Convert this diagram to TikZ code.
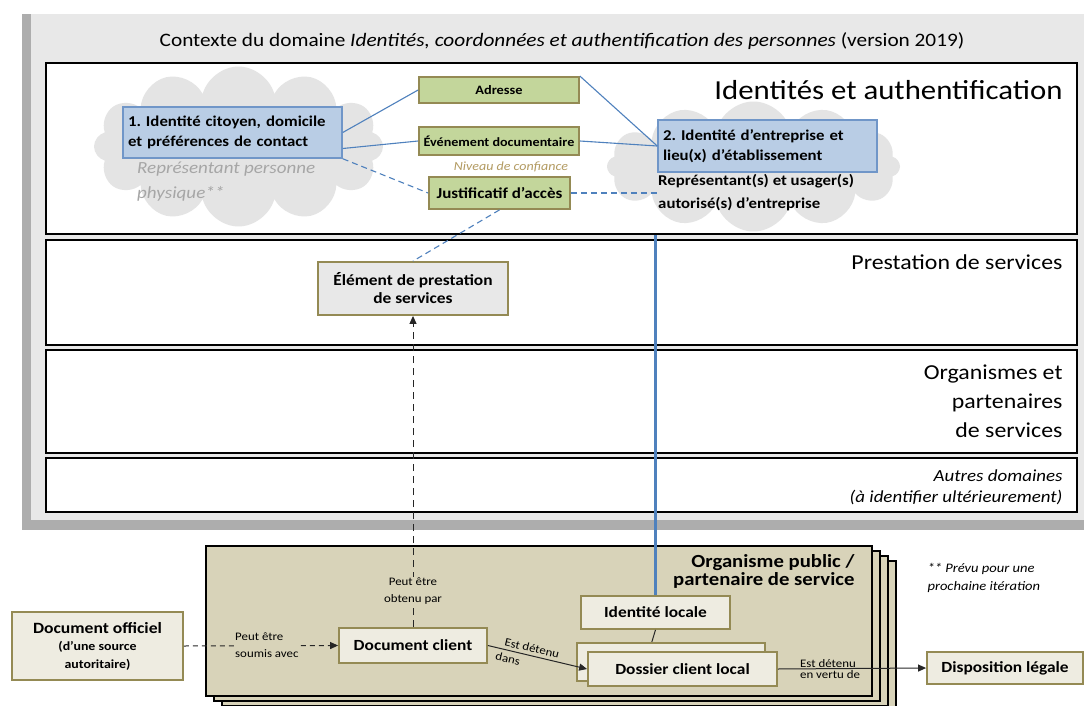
\documentclass[tikz,border=0pt]{standalone}
\usepackage{fontspec}
\setmainfont{Carlito}[FakeStretch=1.12]
\usetikzlibrary{arrows.meta,shapes.symbols}

\definecolor{boxblue}{HTML}{B9CDE5}
\definecolor{lineblue}{HTML}{4F81BD}
\definecolor{borderblue}{HTML}{7096C8}
\definecolor{boxgreen}{HTML}{C3D69B}
\definecolor{olive}{HTML}{948A54}
\definecolor{paper}{HTML}{EEECE1}
\definecolor{orgtan}{HTML}{D8D3B9}
\definecolor{cloudgray}{HTML}{E4E4E4}
\definecolor{confgold}{HTML}{B39B62}
\definecolor{framegray}{HTML}{E8E8E8}
\definecolor{softgray}{HTML}{A6A6A6}

\newcommand\fsz[2]{\fontsize{#1}{#2}\selectfont}

\tikzset{
  band/.style={draw=black, line width=1.8pt, fill=white},
  bluebox/.style={draw=borderblue, line width=1.5pt, fill=boxblue,
    font=\fsz{15}{20}\bfseries, align=left, inner xsep=5pt},
  greenbox/.style={draw=olive, line width=1.8pt, fill=boxgreen},
  paperbox/.style={draw=olive, line width=1.8pt, fill=paper,
    font=\fsz{15.5}{18}\bfseries, align=center},
  orgbox/.style={draw=black, line width=1.8pt, fill=orgtan},
  puff/.style={cloud, cloud puffs=12, fill=cloudgray, draw=none},
  linkline/.style={draw=lineblue, line width=1.1pt},
  linkdash/.style={linkline, dash pattern=on 6pt off 4pt},
  arr/.style={draw=black!85, line width=1pt, -{Triangle[length=8pt,width=7pt]}},
  tag/.style={font=\fsz{11.5}{17}, inner sep=1pt, align=left},
}

\begin{document}
\frenchspacing
\begin{tikzpicture}[x=1pt,y=-1pt]
    \useasboundingbox (0,0) rectangle (1084,706);
    % cadre du contexte
    \fill[black!32] (22,14) rectangle (1090,530);
    \fill[framegray] (31,14) rectangle (1090,520);
    \node[font=\fsz{19}{20}] (ctx) at (562,41)
        {Contexte du domaine \textit{Identités, coordonnées et authentification des personnes} (version 2019)};

    % bandes
    \node[band, minimum width=1031pt, minimum height=171pt] (band1) at (561.5,148.5) {};
    \node[band, minimum width=1031pt, minimum height=105pt] (band2) at (561.5,292.5) {};
    \node[band, minimum width=1031pt, minimum height=103pt] (band3) at (561.5,401.5) {};
    \node[band, minimum width=1031pt, minimum height=54pt]  (band4) at (561.5,485) {};
    \node[anchor=east, font=\fsz{27.5}{30}] (t1) at (1066,90) {Identités et authentification};
    \node[anchor=east, font=\fsz{21.3}{24}] (t2) at (1066,262) {Prestation de services};
    \node[anchor=east, font=\fsz{21.3}{29}, align=right] (t3) at (1066,401) {Organismes et\\partenaires\\de services};
    \node[anchor=east, font=\fsz{16.9}{21}\itshape, align=right] (t4) at (1066,487)
        {Autres domaines\\(à identifier ultérieurement)};

    % nuages
    \node[puff, minimum width=289pt, minimum height=160pt] (cloudL) at (238.5,146.5) {};
    \node[puff, minimum width=293pt, minimum height=130pt] (cloudR) at (753.5,166.5) {};

    % identites
    \node[bluebox, minimum width=219pt, minimum height=51pt, text width=209pt] (id1) at (232.5,132.5)
        {1. Identité citoyen, domicile\\et préférences de contact};
    \node[bluebox, minimum width=219pt, minimum height=52pt, text width=209pt] (id2) at (767.5,146)
        {2. Identité d’entreprise et\\lieu(x) d’établissement};
    \node[anchor=west, font=\fsz{17}{25}\itshape, text=softgray, align=left, inner sep=0pt] (rpp) at (137,182)
        {Représentant personne\\physique**};
    \node[anchor=west, font=\fsz{15}{23}\bfseries, align=left, inner sep=0pt] (rep) at (658,193)
        {Représentant(s) et usager(s)\\autorisé(s) d’entreprise};

    \node[greenbox, minimum width=160pt, minimum height=26pt, font=\fsz{12.8}{14}\bfseries] (adr) at (499,90) {Adresse};
    \node[greenbox, minimum width=160pt, minimum height=28pt, font=\fsz{12.6}{14}\bfseries] (evt) at (499,141) {Événement documentaire};
    \node[font=\fsz{12.5}{14}\itshape, text=confgold] (conf) at (511,167) {Niveau de confiance};
    \node[greenbox, minimum width=141pt, minimum height=32pt, font=\fsz{15.2}{18}\bfseries] (just) at (499.5,193) {Justificatif d’accès};

    \draw[linkline] (id1.east) -- (adr.west);
    \draw[linkline] ([yshift=-16pt]id1.east) -- (evt.west);
    \draw[linkline] (adr.north east) -- (id2.west);
    \draw[linkline] (evt.east) -- (id2.west);
    \draw[linkdash] (id1.south east) -- (just.west);
    \draw[linkdash] (just.east) -- (rep.west);

    % prestation
    \node[paperbox, fill=black!9, minimum width=190pt, minimum height=53pt] (elem) at (413,288.5)
        {Élément de prestation\\de services};
    \draw[linkdash] (just.south) -- (elem.north);

    % organisme public
    \foreach \k in {3,2,1} {
        \node[orgbox, minimum width=666pt, minimum height=150pt] (org\k) at (539+8*\k,621+5*\k) {};
    }
    \node[orgbox, minimum width=666pt, minimum height=150pt] (org) at (539,621) {};
    \node[anchor=east, font=\fsz{18.5}{18}\bfseries, align=right] (orgname) at (858,571)
        {Organisme public /\\partenaire de service};
    \node[font=\fsz{13}{18}\itshape, align=left, anchor=west] (note) at (924,578)
        {** Prévu pour une\\prochaine itération};

    \node[paperbox, minimum width=149pt, minimum height=33pt] (idloc) at (655.5,612.5) {Identité locale};
    \draw[black!85, line width=1pt] (idloc.south) -- ([xshift=-4pt]idloc.south |- 0,643);
    \node[paperbox, minimum width=188pt, minimum height=38pt] (dosback) at (671,662) {};
    \node[paperbox, minimum width=189pt, minimum height=34pt] (dos) at (682.5,669) {Dossier client local};
    \node[paperbox, minimum width=148pt, minimum height=35pt] (doc) at (413,645.5) {Document client};
    \node[paperbox, minimum width=171pt, minimum height=68pt, font=\fsz{15.7}{18}\bfseries] (docoff) at (97.5,646)
        {Document officiel\\[-1pt]\fsz{12.4}{16}(d’une source\\\fsz{12.4}{16}autoritaire)};
    \node[paperbox, minimum width=156pt, minimum height=32pt] (disp) at (1005,668) {Disposition légale};

    \draw[lineblue, line width=3pt] (band1.south -| idloc.north) -- (idloc.north);

    \draw[arr, dash pattern=on 7pt off 5pt] (doc.north) -- (elem.south);
    \node[tag, fill=orgtan, align=center] (obt) at (413,591) {Peut être\\obtenu par};
    \draw[arr, dash pattern=on 5pt off 4pt] (docoff.east) -- (doc.west);
    \node[tag, fill=orgtan, anchor=west] (soum) at (234,645) {Peut être\\soumis avec};
    \draw[arr] (doc.east) -- (dos.west)
        node[pos=0.12, sloped, anchor=south west, inner sep=3pt, font=\fsz{11.5}{14}] {Est détenu}
        node[pos=0.06, sloped, anchor=north west, inner sep=3.5pt, font=\fsz{11.5}{14}] {dans};
    \draw[arr] (dos.east) -- (disp.west)
        node[pos=0.14, anchor=south west, tag] {Est détenu}
        node[pos=0.14, anchor=north west, tag] {en vertu de};
\end{tikzpicture}
\end{document}
